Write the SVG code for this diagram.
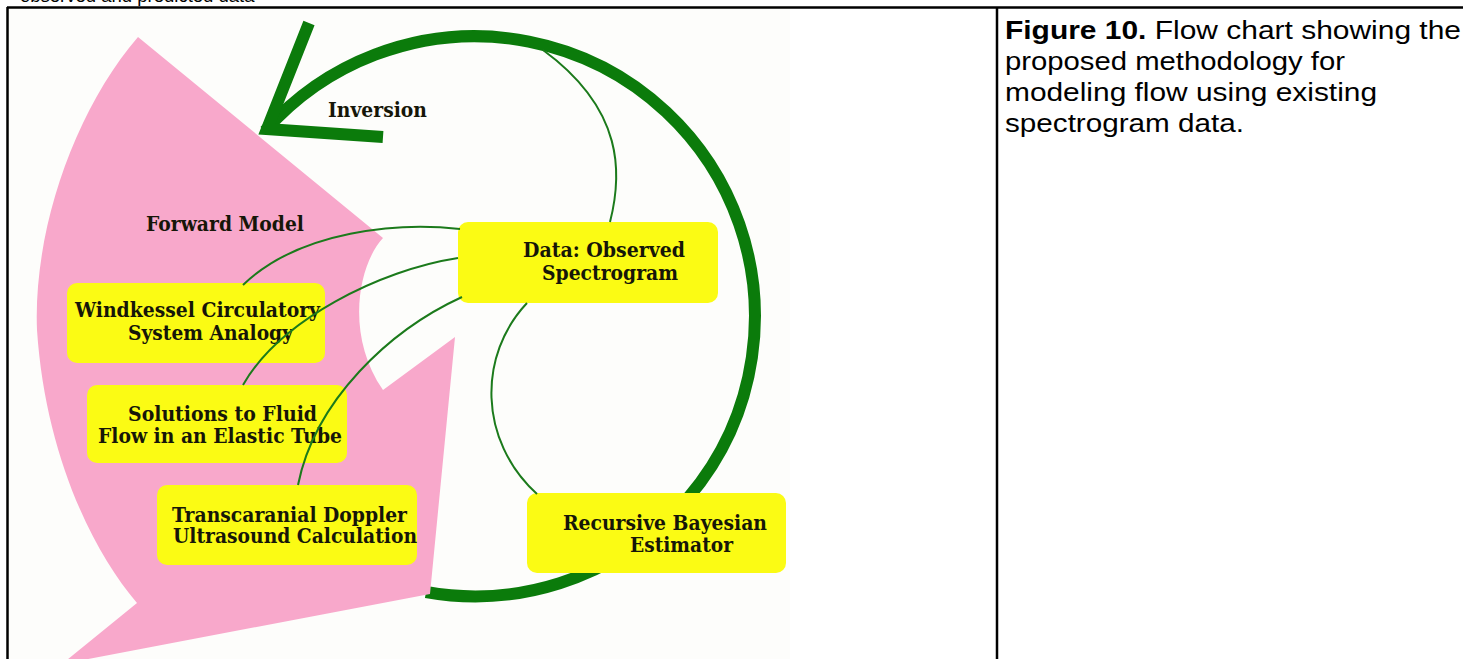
<svg xmlns="http://www.w3.org/2000/svg" width="1468" height="659" viewBox="0 0 1468 659">
<style>
.box{fill:#fbfb14;}
.lbl{font-family:"DejaVu Serif","Liberation Serif",serif;font-weight:bold;font-size:19.5px;fill:#161608;}
.cap{font-family:"Liberation Sans",Arial,sans-serif;font-size:25px;fill:#000;}
.conn{fill:none;stroke:#1b7a1b;stroke-width:2;}
.big{fill:none;stroke:#0b7b0b;stroke-width:12;}
.rule{stroke:#000;stroke-width:2.5;fill:none;}
</style>
<rect x="0" y="0" width="1468" height="659" fill="#ffffff"/>
<rect x="8" y="8" width="782" height="651" fill="#fdfdfb"/>
<text class="cap" x="20" y="1.5" style="font-size:18.5px">observed and predicted data</text>

<g id="inversion-loop">
  <path class="big" d="M 265,131 A 280,280 0 1 1 426,592"/>
</g>

<g id="forward-model-arrow">
  <path fill="#f8a8cb" d="M 138,37 L 383,238 C 358,265 345,335 383,390 L 455,337 L 430,594 L 62,664 L 137,603 C 90,548 45,450 37,330 C 33,230 75,110 138,37 Z"/>
</g>

<g id="inversion-arrowhead">
  <polyline class="big" points="309,23 267,129 383,137" stroke-linejoin="miter"/>
</g>

<g id="label-inversion"><text class="lbl" x="328" y="117" textLength="99" lengthAdjust="spacingAndGlyphs">Inversion</text></g>
<g id="label-forward"><text class="lbl" x="146" y="231" textLength="158" lengthAdjust="spacingAndGlyphs">Forward Model</text></g>

<g id="node-data">
  <rect class="box" x="458" y="222" width="260" height="81" rx="10"/>
  <text class="lbl" x="523" y="257" textLength="162" lengthAdjust="spacingAndGlyphs">Data: Observed</text>
  <text class="lbl" x="542" y="280" textLength="136" lengthAdjust="spacingAndGlyphs">Spectrogram</text>
</g>
<g id="node-windkessel">
  <rect class="box" x="67" y="283" width="258" height="80" rx="10"/>
  <text class="lbl" x="75" y="317" textLength="245" lengthAdjust="spacingAndGlyphs">Windkessel Circulatory</text>
  <text class="lbl" x="128" y="340" textLength="165" lengthAdjust="spacingAndGlyphs">System Analogy</text>
</g>
<g id="node-solutions">
  <rect class="box" x="87" y="385" width="260" height="78" rx="10"/>
  <text class="lbl" x="128" y="421" textLength="189" lengthAdjust="spacingAndGlyphs">Solutions to Fluid</text>
  <text class="lbl" x="98" y="443" textLength="244" lengthAdjust="spacingAndGlyphs">Flow in an Elastic Tube</text>
</g>
<g id="node-doppler">
  <rect class="box" x="157" y="485" width="260" height="80" rx="10"/>
  <text class="lbl" x="172" y="522" textLength="235" lengthAdjust="spacingAndGlyphs">Transcaranial Doppler</text>
  <text class="lbl" x="173" y="543" textLength="244" lengthAdjust="spacingAndGlyphs">Ultrasound Calculation</text>
</g>
<g id="node-bayesian">
  <rect class="box" x="527" y="493" width="259" height="80" rx="10"/>
  <text class="lbl" x="563" y="530" textLength="204" lengthAdjust="spacingAndGlyphs">Recursive Bayesian</text>
  <text class="lbl" x="630" y="552" textLength="103" lengthAdjust="spacingAndGlyphs">Estimator</text>
</g>

<g id="connectors">
  <path class="conn" d="M 610,222 C 622,175 625,110 543,50"/>
  <path class="conn" d="M 460,229 C 400,222 300,230 243,285"/>
  <path class="conn" d="M 458,258 C 380,270 280,320 243,385"/>
  <path class="conn" d="M 462,297 C 390,330 315,400 298,485"/>
  <path class="conn" d="M 527,303 C 478,355 478,440 537,494"/>
</g>

<g id="table-rules">
  <line class="rule" x1="7" y1="7.5" x2="1463" y2="7.5"/>
  <line class="rule" x1="7.5" y1="7" x2="7.5" y2="659"/>
  <line class="rule" x1="997" y1="7" x2="997" y2="659"/>
</g>

<g id="caption">
  <text class="cap" x="1005" y="39" textLength="456" lengthAdjust="spacingAndGlyphs"><tspan font-weight="bold">Figure 10.</tspan> Flow chart showing the</text>
  <text class="cap" x="1005" y="70" textLength="340" lengthAdjust="spacingAndGlyphs">proposed methodology for</text>
  <text class="cap" x="1005" y="101" textLength="372" lengthAdjust="spacingAndGlyphs">modeling flow using existing</text>
  <text class="cap" x="1005" y="132" textLength="239" lengthAdjust="spacingAndGlyphs">spectrogram data.</text>
</g>
</svg>
